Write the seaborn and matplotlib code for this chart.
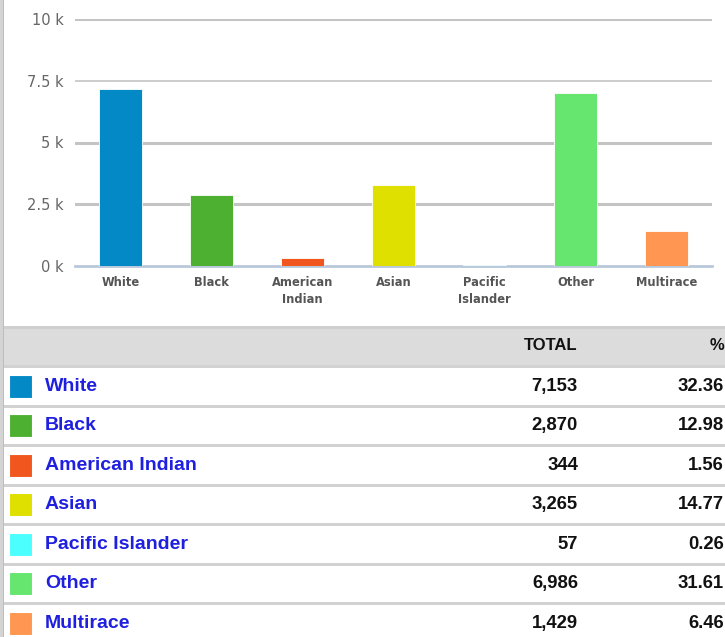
import matplotlib
matplotlib.use('Agg')
import matplotlib.pyplot as plt
import seaborn as sns
from matplotlib.patches import Rectangle

# Datos
categorias = ['White', 'Black', 'American Indian', 'Asian', 'Pacific Islander', 'Other', 'Multirace']
etiquetas_x = ['White', 'Black', 'American\nIndian', 'Asian', 'Pacific\nIslander', 'Other', 'Multirace']
totales = [7153, 2870, 344, 3265, 57, 6986, 1429]
porcentajes = [32.36, 12.98, 1.56, 14.77, 0.26, 31.61, 6.46]
colores = ['#0389C6', '#4EB031', '#F0561E', '#DFDF00', '#4CFFFF', '#66E56F', '#FF9651']
yticks = [0, 2500, 5000, 7500, 10000]
yticklabels = ['0 k', '2.5 k', '5 k', '7.5 k', '10 k']

sns.set_style('white')
W, H = 725, 637
fig = plt.figure(figsize=(W / 100, H / 100), dpi=100)

# Fondo (tabla y bordes) en coordenadas de pixel
bg = fig.add_axes([0, 0, 1, 1])
bg.set_xlim(0, W)
bg.set_ylim(H, 0)
bg.axis('off')

# borde izquierdo
bg.add_patch(Rectangle((0, 0), 3, H, color='#D4D4D4', lw=0))
bg.add_patch(Rectangle((3, 0), 1.5, H, color='#BDBDBD', lw=0))

# cabecera de la tabla
bg.add_patch(Rectangle((4, 325.5), W, 3.5, color='#CFCFCF', lw=0))
bg.add_patch(Rectangle((4, 329), W, 36, color='#DCDCDC', lw=0))
bg.text(578, 346, 'TOTAL', ha='right', va='center', fontsize=12,
        fontweight='bold', family='Liberation Sans', color='#111111')
bg.text(724, 346, '%', ha='right', va='center', fontsize=12,
        fontweight='bold', family='Liberation Sans', color='#111111')

fila_h = 39.5
y0 = 365
for i, (cat, tot, pct, col) in enumerate(zip(categorias, totales, porcentajes, colores)):
    top = y0 + i * fila_h
    bg.add_patch(Rectangle((4, top), W, 3, color='#D2D2D2', lw=0))
    yc = top + 3 + (fila_h - 3) / 2
    bg.add_patch(Rectangle((9, yc - 11.5), 23, 23, facecolor=col,
                           edgecolor='#FFFFFF', lw=0.8))
    bg.text(45, yc, cat, ha='left', va='center', fontsize=14,
            fontweight='bold', family='Liberation Sans', color='#1F1FE0')
    bg.text(578, yc, f'{tot:,}', ha='right', va='center', fontsize=13.3,
            fontweight='bold', family='Liberation Sans', color='#111111')
    bg.text(724, yc, f'{pct:.2f}', ha='right', va='center', fontsize=13.3,
            fontweight='bold', family='Liberation Sans', color='#111111')

# Grafico de barras
ax = fig.add_axes([75 / W, 1 - 266 / H, 637 / W, (266 - 19) / H])
sns.barplot(x=categorias, y=totales, hue=categorias, palette=colores,
            saturation=1, width=0.47, legend=False, ax=ax,
            edgecolor='#FFFFFF', linewidth=0.6, zorder=3)
ax.set_xlim(-0.5, 6.5)
ax.set_ylim(0, 10000)
ax.set_yticks(yticks)
ax.set_yticklabels(yticklabels, fontsize=10.5, color='#666666')
ax.set_xticks(range(len(categorias)))
ax.set_xticklabels(etiquetas_x, fontsize=8.3, fontweight='bold', color='#555555',
                   linespacing=1.45)
ax.set_xticks([i - 0.5 for i in range(len(categorias) + 1)], minor=True)
ax.tick_params(axis='x', which='major', length=0, pad=7)
ax.tick_params(axis='x', which='minor', length=5, width=2, color='#B8C8DA', direction='out')
ax.tick_params(axis='y', length=0, pad=8)
for yv in yticks[1:]:
    lw = 1.2 if yv == 7500 else 2.2
    ax.axhline(yv, color='#C4C4C4', lw=lw, zorder=1)
for s in ['top', 'right', 'left']:
    ax.spines[s].set_visible(False)
ax.spines['bottom'].set_color('#B8C8DA')
ax.spines['bottom'].set_linewidth(2)
ax.set_xlabel('')
ax.set_ylabel('')

fig.savefig('out.png', dpi=100)
